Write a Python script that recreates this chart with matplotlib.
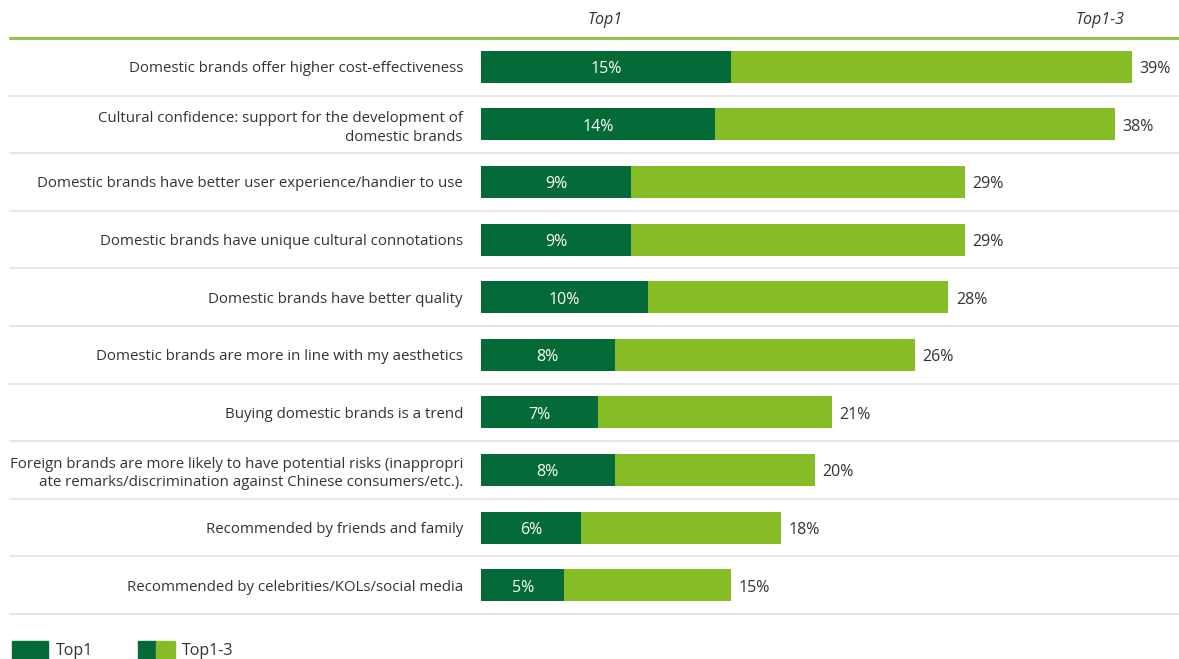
import matplotlib
matplotlib.use("Agg")
import matplotlib.pyplot as plt
from matplotlib.patches import Rectangle

plt.rcParams['font.family'] = ['Open Sans', 'DejaVu Sans']

# survey reasons for choosing domestic brands
reasons = [
    "Domestic brands offer higher cost-effectiveness",
    "Cultural confidence: support for the development of\ndomestic brands",
    "Domestic brands have better user experience/handier to use",
    "Domestic brands have unique cultural connotations",
    "Domestic brands have better quality",
    "Domestic brands are more in line with my aesthetics",
    "Buying domestic brands is a trend",
    "Foreign brands are more likely to have potential risks (inappropri\nate remarks/discrimination against Chinese consumers/etc.).",
    "Recommended by friends and family",
    "Recommended by celebrities/KOLs/social media",
]
top1 = [15, 14, 9, 9, 10, 8, 7, 8, 6, 5]
top1_3 = [39, 38, 29, 29, 28, 26, 21, 20, 18, 15]

DARK = "#046a38"
LIGHT = "#86bc25"
TXT = "#333333"
GRID = "#e2e2e2"

W, H = 1179, 659
fig = plt.figure(figsize=(W / 100, H / 100), dpi=100)
ax = fig.add_axes([481 / W, (H - 614) / H, 692.7 / W, 576 / H])

ypos = list(range(len(reasons)))
ax.barh(ypos, top1_3, height=0.556, color=LIGHT, zorder=2)
ax.barh(ypos, top1, height=0.556, color=DARK, zorder=3)

for y, a, b in zip(ypos, top1, top1_3):
    ax.text(a / 2, y + 0.04, f"{a}%", ha="center", va="center", color="white",
            fontsize=11.5, zorder=4)
    ax.text(b + 0.45, y + 0.04, f"{b}%", ha="left", va="center", color=TXT,
            fontsize=11.5)

ax.set_xlim(0, 41.5)
ax.set_ylim(len(reasons) - 0.5, -0.5)

# row separators + green header rule
xl = (10 - 481) / 692.7
for i in range(len(reasons)):
    ax.axhline(i + 0.5, xmin=xl, xmax=1.01, color=GRID, lw=1.2, clip_on=False, zorder=1)
ax.axhline(-0.5, xmin=xl, xmax=1.01, color="#8cc04a", lw=2, clip_on=False, zorder=1)

ax.set_yticks(ypos)
ax.set_yticklabels(reasons, fontsize=10.8, color=TXT, linespacing=1.3)
ax.tick_params(axis="y", length=0, pad=13)
ax.set_xticks([])
for s in ax.spines.values():
    s.set_visible(False)

fig.text(605 / W, 1 - 20 / H, "Top1", style="italic", ha="center", va="center",
         fontsize=11.5, color=TXT)
fig.text(1100 / W, 1 - 20 / H, "Top1-3", style="italic", ha="center", va="center",
         fontsize=11.5, color=TXT)

# legend swatches along the bottom edge
fig.add_artist(Rectangle((12 / W, 0), 36 / W, 18 / H, transform=fig.transFigure, color=DARK))
fig.text(56 / W, 8 / H, "Top1", ha="left", va="center", fontsize=11.5, color=TXT)
fig.add_artist(Rectangle((138 / W, 0), 18 / W, 18 / H, transform=fig.transFigure, color=DARK))
fig.add_artist(Rectangle((156 / W, 0), 19 / W, 18 / H, transform=fig.transFigure, color=LIGHT))
fig.text(182 / W, 8 / H, "Top1-3", ha="left", va="center", fontsize=11.5, color=TXT)

fig.savefig("out.png", dpi=100, facecolor="white")
